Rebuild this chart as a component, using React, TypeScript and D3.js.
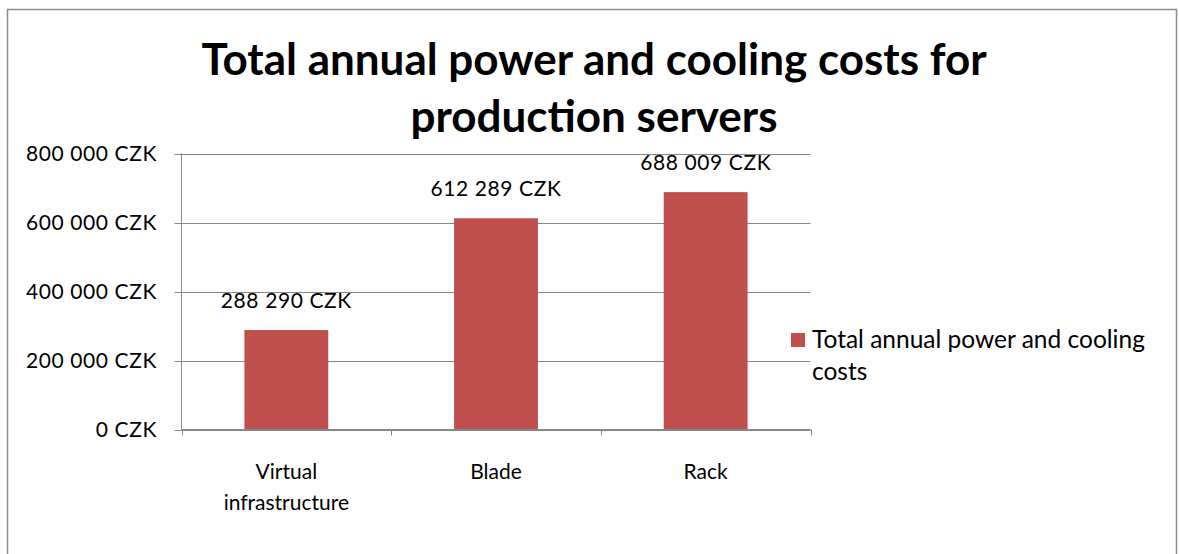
import React from "react";
import * as d3 from "d3";

const categories = ["Virtual infrastructure", "Blade", "Rack"];
const categoryLines = [["Virtual", "infrastructure"], ["Blade"], ["Rack"]];
const values = [288290, 612289, 688009];
const yTicks = [0, 200000, 400000, 600000, 800000];
const seriesNameLines = ["Total annual power and cooling", "costs"];
const titleLines = ["Total annual power and cooling costs for", "production servers"];

const W = 1179;
const H = 554;
const FONT = "Lato, 'Open Sans', sans-serif";

const fmt = (v: number) =>
  String(v).replace(/\B(?=(\d{3})+(?!\d))/g, " ") + " CZK";

export default function App() {
  const left = 181.5;
  const right = 810.5;
  const top = 153.5;
  const bottom = 429.5;
  const x = d3.scaleBand<string>().domain(categories).range([left, right]).paddingInner(0.6).paddingOuter(0.3);
  const xo = d3.scaleBand<string>().domain(categories).range([left, right]).padding(0);
  const y = d3.scaleLinear().domain([0, 800000]).range([bottom, top]);
  const axisColor = "#868686";
  const barColor = "#C0504D";

  return (
    <div style={{ position: "fixed", left: 0, top: 0, width: W, height: H, background: "#fff" }}>
      <svg width={W} height={H} style={{ display: "block" }}>
        <rect x={7.5} y={9.5} width={1169} height={H + 20} fill="#fff" stroke="#8c8c8c" strokeWidth={1.5} />
        {titleLines.map((t, i) => (
          <text key={t} x={594} y={75 + i * 57} textAnchor="middle" fontFamily={FONT} fontWeight="bold" fontSize={44} fill="#000">
            {t}
          </text>
        ))}
        {yTicks.map((t) => (
          <g key={t}>
            <line x1={left - 7} x2={right} y1={Math.round(y(t)) + 0.5} y2={Math.round(y(t)) + 0.5} stroke={axisColor} strokeWidth={1} />
            <text x={157} y={y(t) + 7} textAnchor="end" fontFamily={FONT} fontSize={21} letterSpacing={0.6} fill="#000">
              {fmt(t)}
            </text>
          </g>
        ))}
        <line x1={left} x2={left} y1={top} y2={bottom} stroke={axisColor} />
        {categories.map((c, i) => (
          <g key={c}>
            <rect x={x(c)!} y={y(values[i])} width={x.bandwidth()} height={bottom - y(values[i])} fill={barColor} />
            <text x={x(c)! + x.bandwidth() / 2} y={y(values[i]) - 22} textAnchor="middle" fontFamily={FONT} fontSize={21} letterSpacing={0.6} fill="#000">
              {fmt(values[i])}
            </text>
            {categoryLines[i].map((l, j) => (
              <text key={l} x={xo(c)! + xo.bandwidth() / 2} y={479 + j * 31} textAnchor="middle" fontFamily={FONT} fontSize={21} fill="#000">
                {l}
              </text>
            ))}
          </g>
        ))}
        {[...categories.map((c) => xo(c)!), right].map((tx, i) => (
          <line key={i} x1={Math.round(tx) + 0.5} x2={Math.round(tx) + 0.5} y1={bottom} y2={bottom + 6} stroke={axisColor} />
        ))}
        <line x1={left} x2={right} y1={bottom} y2={bottom} stroke={axisColor} />
        <rect x={791} y={333} width={14} height={14} fill={barColor} />
        {seriesNameLines.map((l, j) => (
          <text key={l} x={812} y={348 + j * 32} fontFamily={FONT} fontSize={24.5} fill="#000">
            {l}
          </text>
        ))}
      </svg>
    </div>
  );
}
